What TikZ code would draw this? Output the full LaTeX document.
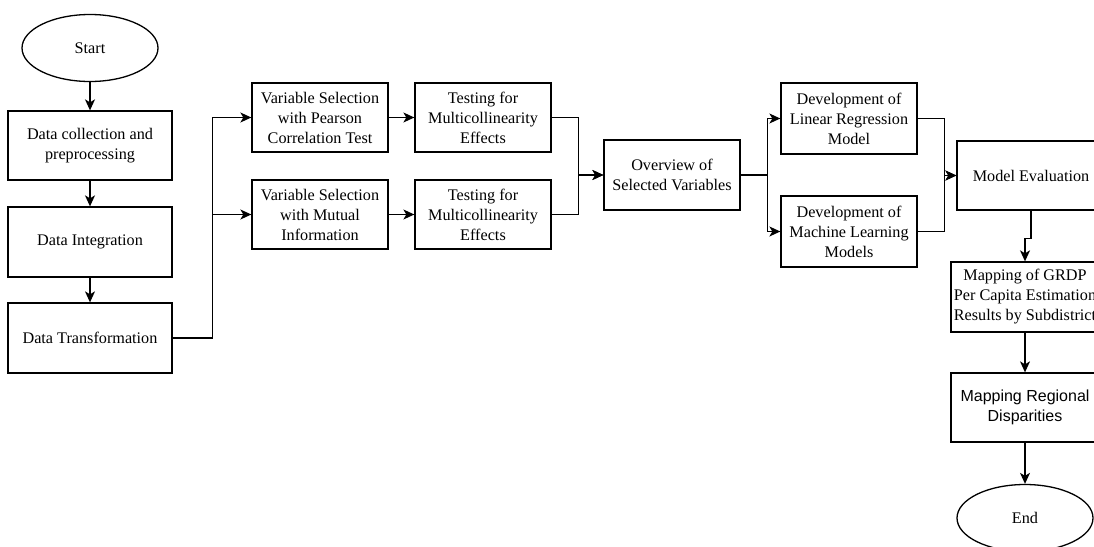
\documentclass[tikz,border=0pt]{standalone}
\usepackage{fontspec}
\setmainfont{Liberation Serif}
\newfontfamily\arialfont{Liberation Sans}
\usetikzlibrary{shapes,arrows,positioning,calc,arrows.meta}

\begin{document}
\begin{tikzpicture}[x=1pt, y=-1pt,
    every node/.style={font=\fontsize{16.2}{20}\selectfont, align=center},
    term/.style={draw, ellipse, line width=1.3pt, minimum width=136pt, minimum height=67pt, inner sep=0pt},
    box/.style={draw, rectangle, line width=1.3pt, minimum width=136pt, minimum height=69pt, inner sep=1pt},
    arr/.style={line width=1.3pt, -{Stealth[length=11pt, width=10pt, inset=3pt]}}]
    \useasboundingbox (0,0) rectangle (1094,546);

    % Left column
    \node[term] (start) at (90,48) {Start};
    \node[box, minimum width=164pt] (collect) at (90,145.5) {Data collection and\\preprocessing};
    \node[box, minimum width=164pt, minimum height=70pt] (integ) at (90,242) {Data Integration};
    \node[box, minimum width=164pt, minimum height=70pt] (transf) at (90,338) {Data Transformation};

    % Variable selection
    \node[box] (vspear) at (320,117.5) {Variable Selection\\with Pearson\\Correlation Test};
    \node[box] (vsmut) at (320,214.5) {Variable Selection\\with Mutual\\Information};
    \node[box] (test1) at (483,117.5) {Testing for\\Multicollinearity\\Effects};
    \node[box] (test2) at (483,214.5) {Testing for\\Multicollinearity\\Effects};
    \node[box, minimum height=70pt] (overview) at (672,175) {Overview of\\Selected Variables};

    % Models
    \node[box, minimum height=71pt] (devlr) at (849,118.5) {Development of\\Linear Regression\\Model};
    \node[box, minimum height=71pt] (devml) at (849,231.5) {Development of\\Machine Learning\\Models};
    \node[box, minimum width=148pt] (eval) at (1031,175.5) {Model Evaluation};

    % Right column
    \node[box, minimum width=148pt, minimum height=70pt] (gmap) at (1025,297) {Mapping of GRDP\\Per Capita Estimation\\Results by Subdistrict};
    \node[box, minimum width=148pt, font=\arialfont\fontsize{16}{19.5}\selectfont] (disp) at (1025,407.5) {Mapping Regional\\Disparities};
    \node[term] (end) at (1025,518) {End};

    % Connectors
    \draw[arr] (start) -- (collect);
    \draw[arr] (collect) -- (integ);
    \draw[arr] (integ) -- (transf);
    \draw[arr] (transf.east) -- ++(40,0) |- (vspear.west);
    \draw[arr] (transf.east) -- ++(40,0) |- (vsmut.west);
    \draw[arr] (vspear) -- (test1);
    \draw[arr] (vsmut) -- (test2);
    \draw[arr] (test1.east) -- ++(27,0) |- (overview.west);
    \draw[arr] (test2.east) -- ++(27,0) |- (overview.west);
    \draw[arr] (overview.east) -- ++(27,0) |- (devlr.west);
    \draw[arr] (overview.east) -- ++(27,0) |- (devml.west);
    \draw[arr] (devlr.east) -- ++(27,0) |- (eval.west);
    \draw[arr] (devml.east) -- ++(27,0) |- (eval.west);
    \draw[arr] (eval.south) -- ++(0,28) -| (gmap.north);
    \draw[arr] (gmap) -- (disp);
    \draw[arr] (disp) -- (end);
\end{tikzpicture}
\end{document}
